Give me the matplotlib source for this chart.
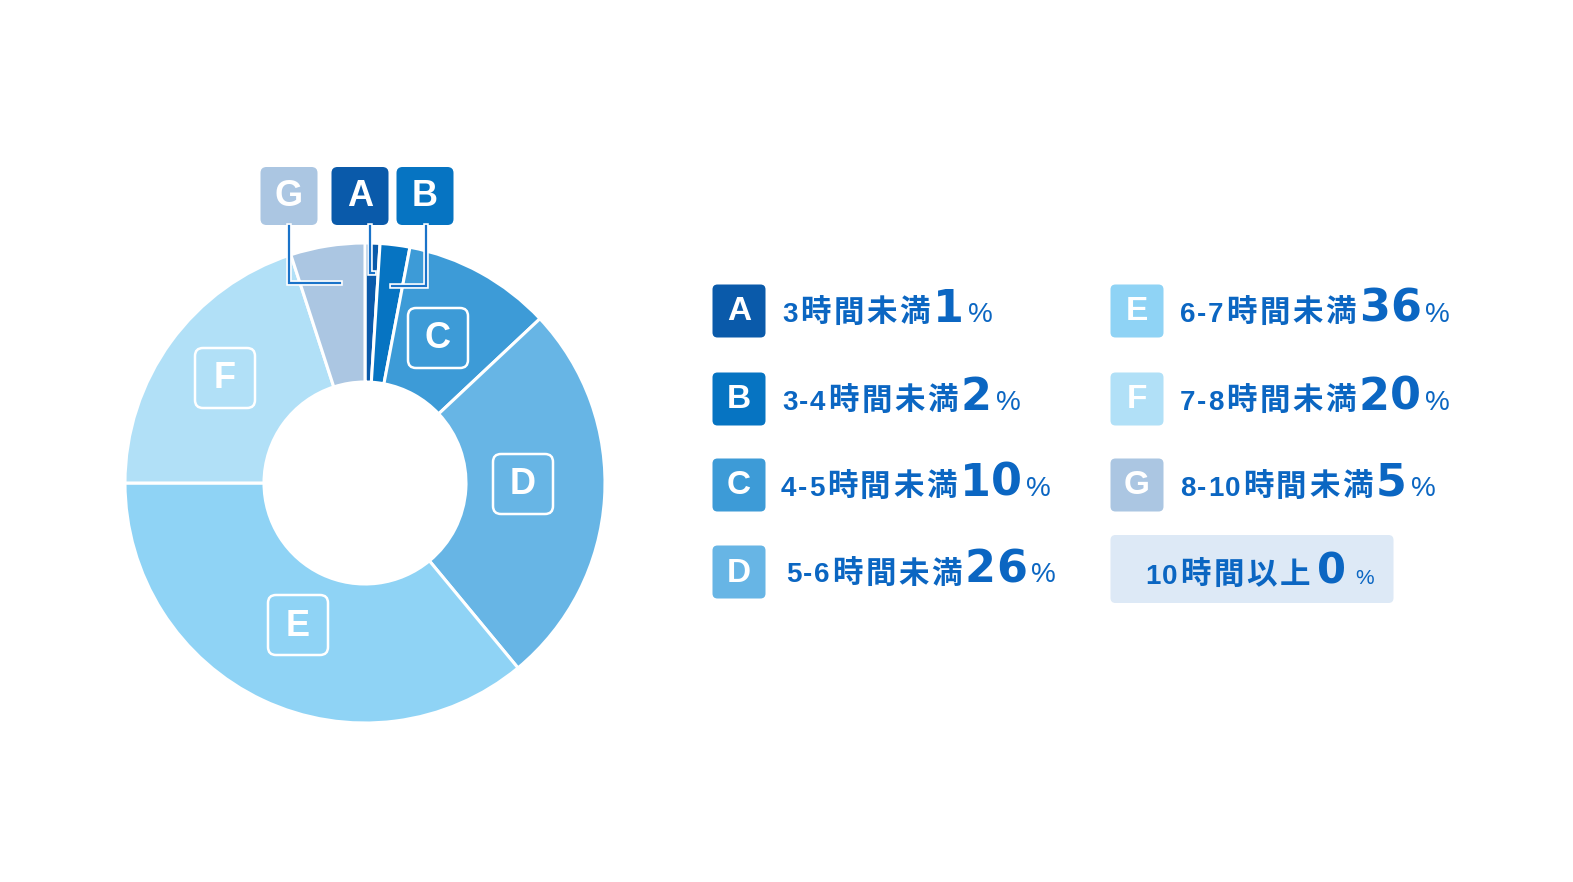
import matplotlib
matplotlib.use("Agg")
import matplotlib.pyplot as plt
from matplotlib.patches import FancyBboxPatch
import matplotlib.patheffects as pe

plt.rcParams['font.family'] = ['Noto Sans CJK JP', 'DejaVu Sans']

# data
letters = ['A', 'B', 'C', 'D', 'E', 'F', 'G']
ranges = ['3', '3-4', '4-5', '5-6', '6-7', '7-8', '8-10']
unit = '時間未満'
shares = [1, 2, 10, 26, 36, 20, 5]
over10_num = '10'
over10_unit = '時間以上'
over10_share = 0
colors = ['#0a5aaa', '#0674c2', '#3d9bd7', '#67b5e5', '#8fd3f5', '#b1e0f7', '#abc6e2']

W, H = 1573, 882
TXT = '#0b66c2'

fig = plt.figure(figsize=(W / 100, H / 100), dpi=100)
ax = fig.add_axes([0, 0, 1, 1])

def py(y):
    # pixel row -> data y
    return H - y

cx, cy = 365, 483
ax.pie(shares, colors=colors, startangle=90, counterclock=False,
       center=(cx, py(cy)), radius=240,
       wedgeprops=dict(width=139, edgecolor='white', linewidth=2.2))

ax.set_xlim(0, W)
ax.set_ylim(0, H)
ax.set_aspect('equal')
ax.axis('off')


def box(x, y, w, h, face, edge=None, lw=0, r=6):
    p = FancyBboxPatch((x - w / 2, py(y) - h / 2), w, h,
                       boxstyle='round,pad=0,rounding_size=%d' % r,
                       facecolor=face, edgecolor=edge if edge else 'none',
                       linewidth=lw, zorder=5)
    ax.add_patch(p)


def letter(x, y, s, size=26):
    ax.text(x, py(y) - 1, s, color='white', fontsize=size, fontweight='bold',
            family='Liberation Sans', ha='center', va='center', zorder=6)


# labels inside big wedges (outlined boxes)
inside = {'C': (438, 338), 'D': (523, 484), 'E': (298, 625), 'F': (225, 378)}
for k, (x, y) in inside.items():
    box(x, y, 60, 60, 'none', edge='white', lw=1.8, r=8)
    letter(x, y, k)

# labels above the small wedges with leader lines
top = {'G': (289, 196), 'A': (360, 196), 'B': (425, 196)}
for k, (x, y) in top.items():
    box(x, y, 57, 58, colors[letters.index(k)], r=6)
    letter(x, y, k)

leaders = [
    [(289, 226), (289, 283), (340, 283)],
    [(370, 226), (370, 273), (374, 273)],
    [(426, 226), (426, 286), (392, 286)],
]
for pts in leaders:
    xs = [p[0] for p in pts]
    ys = [py(p[1]) for p in pts]
    ax.plot(xs, ys, color='#1a73c9', linewidth=1.6, zorder=7,
            solid_joinstyle='miter',
            path_effects=[pe.Stroke(linewidth=4, foreground='white'), pe.Normal()])

renderer = fig.canvas.get_renderer()

# text styles: family, size (pt), weight
STYLES = {
    'num': ('Liberation Sans', 20, 'bold'),
    'kan': ('Noto Sans CJK JP', 22, 'bold'),
    'big': ('DejaVu Sans', 32, 'bold'),
    'pct': ('Liberation Sans', 20, 'normal'),
    'big0': ('DejaVu Sans', 30, 'bold'),
    'pct0': ('Liberation Sans', 15, 'normal'),
}
GAPS = {('num', 'num'): 1.5, ('num', 'kan'): 3, ('kan', 'kan'): 2.5,
        ('kan', 'big'): 3, ('big', 'big'): 0.5, ('big', 'pct'): 4,
        ('kan', 'big0'): 7, ('big0', 'pct0'): 9}


def runs(x, y, pieces):
    # one glyph at a time on a shared baseline
    prev = None
    for s, st in pieces:
        fam, size, weight = STYLES[st]
        for ch in s:
            if prev is not None:
                x += GAPS.get((prev, st), 1)
            t = ax.text(x, py(y), ch, color=TXT, fontsize=size, fontweight=weight,
                        family=fam, ha='left', va='baseline', zorder=6)
            x += t.get_window_extent(renderer).width
            prev = st


# legend
left_rows = [(311, 782), (399, 782), (485, 781), (572, 786)]
right_rows = [(311, 1180), (399, 1180), (485, 1180)]
slots = [(739, r[0], r[1]) for r in left_rows] + [(1137, r[0], r[1]) for r in right_rows]

for i, (bx, by, tx) in enumerate(slots):
    box(bx, by, 53, 53, colors[i], r=5)
    letter(bx, by, letters[i], size=24)
    runs(tx, by + 10.5, [(ranges[i], 'num'), (unit, 'kan'),
                         (str(shares[i]), 'big'), ('%', 'pct')])

box(1252, 569, 283, 68, '#dde9f6', r=5)
runs(1145, 584, [(over10_num, 'num'), (over10_unit, 'kan'),
                 (str(over10_share), 'big0'), ('%', 'pct0')])

fig.savefig('out.png', dpi=100, facecolor='white')
